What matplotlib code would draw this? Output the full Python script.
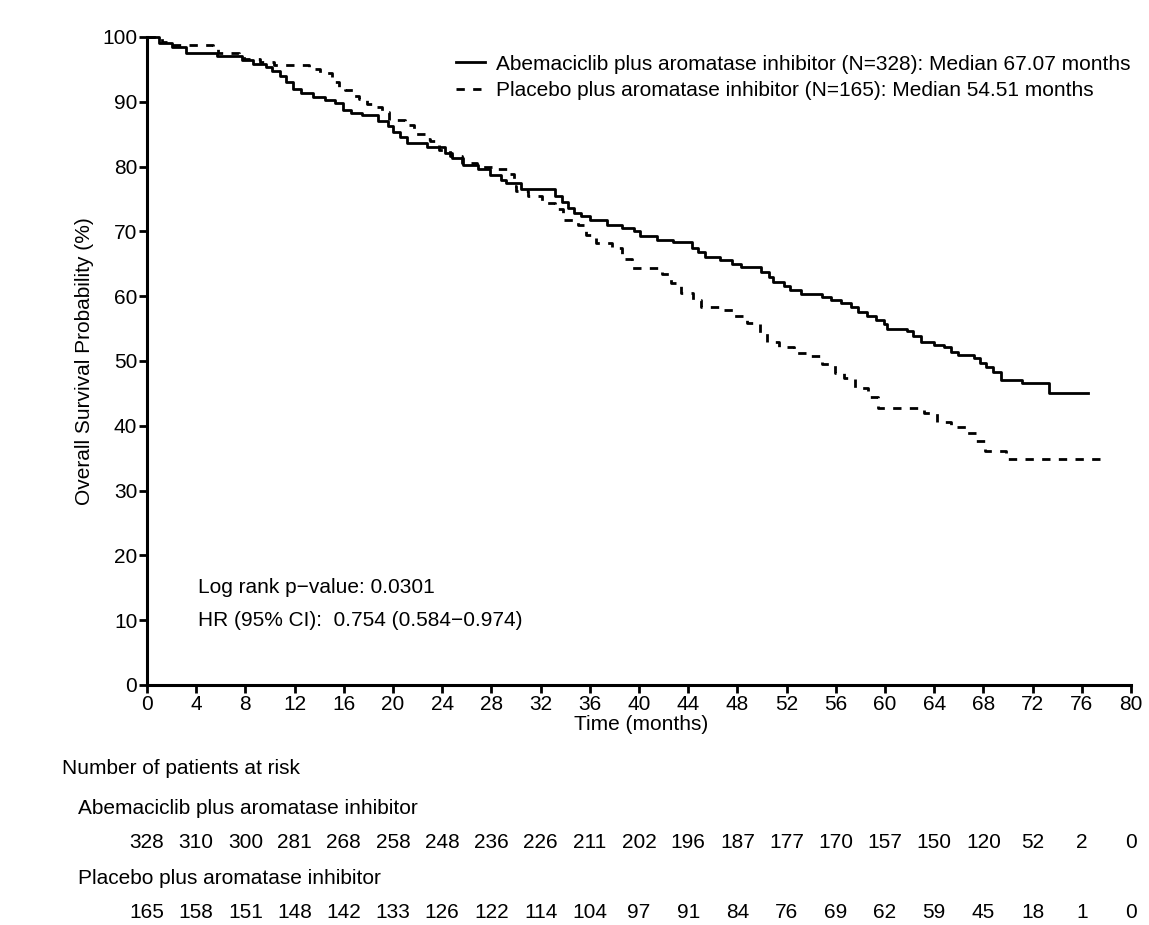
import matplotlib
matplotlib.use("Agg")
import matplotlib.pyplot as plt
from matplotlib.lines import Line2D
from matplotlib.transforms import blended_transform_factory

plt.rcParams['font.family'] = ['Liberation Sans', 'DejaVu Sans']

# Kaplan-Meier steps (time in months, survival in %)
t_abema = [0, 1.0, 2.0, 3.2, 5.7, 7.7, 8.6, 9.7, 10.2, 10.8, 11.3, 11.9, 12.5, 13.5,
           14.5, 15.3, 15.9, 16.6, 17.5, 18.8, 19.6, 20.0, 20.6, 21.1, 22.8, 24.2,
           24.8, 25.7, 26.9, 27.9, 28.8, 29.2, 30.4, 33.2, 33.7, 34.2, 34.7, 35.3,
           36.0, 37.4, 38.6, 39.6, 40.1, 41.5, 42.8, 44.3, 44.8, 45.4, 46.6, 47.6,
           48.3, 49.9, 50.6, 50.9, 51.8, 52.3, 53.2, 54.9, 55.6, 56.4, 57.2, 57.8,
           58.5, 59.3, 59.9, 60.2, 61.8, 62.3, 62.9, 64.0, 64.8, 65.4, 65.9, 67.2,
           67.7, 68.2, 68.8, 69.4, 71.1, 73.3, 76.5]
s_abema = [100, 99.0, 98.5, 97.5, 97.0, 96.4, 95.9, 95.3, 94.7, 94.0, 93.0, 92.0, 91.3, 90.8,
           90.3, 89.8, 88.8, 88.3, 87.9, 87.0, 86.2, 85.4, 84.5, 83.6, 83.1, 82.1,
           81.3, 80.2, 79.7, 78.7, 77.9, 77.4, 76.6, 75.5, 74.6, 73.6, 72.9, 72.3,
           71.8, 71.0, 70.6, 70.0, 69.3, 68.7, 68.4, 67.5, 66.8, 66.1, 65.6, 65.0,
           64.5, 63.8, 63.0, 62.2, 61.6, 61.0, 60.3, 59.9, 59.4, 58.9, 58.4, 57.6,
           57.0, 56.3, 55.7, 55.0, 54.6, 53.8, 53.0, 52.5, 52.1, 51.4, 50.9, 50.4,
           49.7, 49.1, 48.3, 47.1, 46.6, 45.1, 45.1]

t_plac = [0, 1.2, 2.0, 5.4, 5.8, 7.5, 7.9, 9.2, 10.3, 13.2, 14.1, 15.0, 15.6, 16.1,
          16.8, 17.2, 17.9, 18.3, 19.1, 19.7, 21.0, 21.7, 22.6, 23.0, 23.7, 24.6,
          25.6, 26.8, 28.2, 29.3, 29.8, 30.0, 31.0, 32.1, 33.2, 33.8, 35.0, 35.7,
          36.5, 37.8, 38.6, 39.4, 41.9, 42.6, 43.4, 44.4, 45.0, 46.6, 47.7, 48.8,
          49.8, 50.4, 51.4, 52.6, 53.9, 54.9, 55.9, 56.7, 57.6, 58.6, 59.4, 63.2,
          64.2, 65.4, 66.6, 67.4, 68.1, 69.8, 77.7]
s_plac = [100, 99.3, 98.8, 98.2, 97.5, 97.0, 96.6, 96.2, 95.7, 95.0, 94.4, 93.0, 92.2, 91.8,
          90.9, 90.5, 89.6, 89.2, 88.5, 87.2, 86.4, 85.1, 84.3, 83.9, 82.6, 81.6,
          80.6, 80.0, 79.7, 78.9, 77.0, 76.2, 75.5, 74.4, 73.5, 71.8, 71.0, 69.4,
          68.2, 67.5, 65.8, 64.3, 63.5, 62.0, 60.5, 59.4, 58.3, 57.8, 57.0, 55.8,
          54.3, 53.0, 52.2, 51.2, 50.7, 49.6, 48.1, 47.3, 45.8, 44.5, 42.7, 41.9,
          40.6, 39.8, 38.9, 37.6, 36.1, 34.9, 34.9]

risk_times = list(range(0, 81, 4))
risk_abema = [328, 310, 300, 281, 268, 258, 248, 236, 226, 211, 202, 196, 187, 177,
              170, 157, 150, 120, 52, 2, 0]
risk_plac = [165, 158, 151, 148, 142, 133, 126, 122, 114, 104, 97, 91, 84, 76, 69,
             62, 59, 45, 18, 1, 0]

label_abema = "Abemaciclib plus aromatase inhibitor (N=328): Median 67.07 months"
label_plac = "Placebo plus aromatase inhibitor (N=165): Median 54.51 months"

fs = 15
W, H = 1149, 925
fig = plt.figure(figsize=(W / 100, H / 100), dpi=100)
ax = fig.add_axes([147 / W, 1 - 685 / H, (1131 - 147) / W, (685 - 37) / H])

ax.step(t_abema, s_abema, where='post', color='black', lw=2.0, clip_on=False)
ax.step(t_plac, s_plac, where='post', color='black', lw=2.0,
        linestyle=(0, (3, 3)), clip_on=False)

ax.set_xlim(0, 80)
ax.set_ylim(0, 100)
ax.set_xticks(risk_times)
ax.set_yticks(range(0, 101, 10))
ax.tick_params(direction='out', length=6, width=2, labelsize=fs, pad=1)
for side in ['top', 'right']:
    ax.spines[side].set_visible(False)
for side in ['left', 'bottom']:
    ax.spines[side].set_linewidth(2.2)

handles = [Line2D([], [], color='black', lw=2.0),
           Line2D([], [], color='black', lw=2.0, linestyle=(0, (3, 3)))]
ax.legend(handles, [label_abema, label_plac], loc='upper right',
          bbox_to_anchor=(1.012, 0.992), frameon=False, fontsize=fs,
          handlelength=1.4, handletextpad=0.5, labelspacing=0.35, borderaxespad=0.2)

ax.text(4.15, 15.1, "Log rank p\u2212value: 0.0301", fontsize=fs, va='center')
ax.text(4.15, 10.0, "HR (95% CI):  0.754 (0.584\u22120.974)", fontsize=fs, va='center')

fig.text(85 / W, 1 - 361 / H, "Overall Survival Probability (%)", rotation=90,
         fontsize=fs, ha='center', va='center')
fig.text(641 / W, 1 - 724 / H, "Time (months)", fontsize=fs, ha='center', va='center')

fig.text(62 / W, 1 - 768 / H, "Number of patients at risk", fontsize=fs, va='center')
fig.text(78 / W, 1 - 808 / H, "Abemaciclib plus aromatase inhibitor", fontsize=fs, va='center')
fig.text(78 / W, 1 - 878 / H, "Placebo plus aromatase inhibitor", fontsize=fs, va='center')

trans = blended_transform_factory(ax.transData, fig.transFigure)
for t, a, p in zip(risk_times, risk_abema, risk_plac):
    fig.text(t, 1 - 843 / H, str(a), transform=trans, fontsize=fs, ha='center', va='center')
    fig.text(t, 1 - 913 / H, str(p), transform=trans, fontsize=fs, ha='center', va='center')

fig.savefig("out.png", dpi=100, facecolor='white')
